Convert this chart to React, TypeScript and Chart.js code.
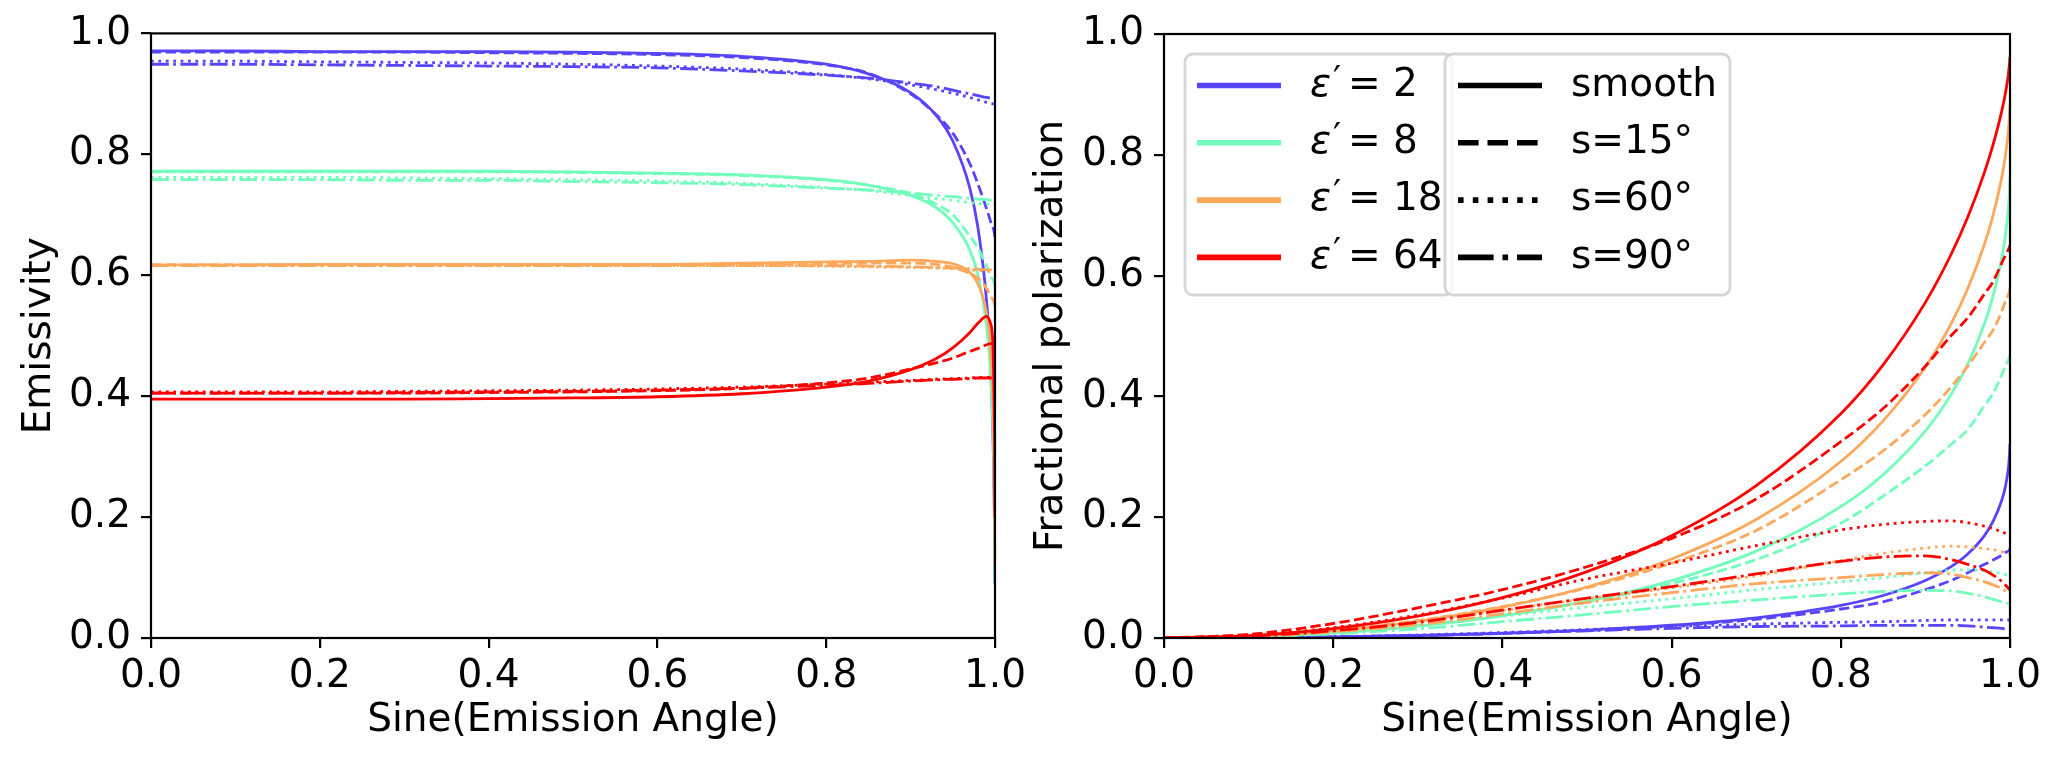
import { useEffect, useRef } from 'react'
import { Chart, registerables } from 'chart.js'
import type { Plugin, ChartConfiguration } from 'chart.js'

Chart.register(...registerables)

// sin(emission angle) sample points shared by every curve
const sinAngle = [0, 0.1, 0.2, 0.3, 0.4, 0.5, 0.6, 0.7, 0.8, 0.85, 0.9, 0.93, 0.95, 0.97, 0.98, 0.99, 0.995, 0.9995, 0.9999]

const epsLabels = ['2', '8', '18', '64']
const roughLabels = ['smooth', 's=15°', 's=60°', 's=90°']
const xTicks = [0, 0.2, 0.4, 0.6, 0.8, 1.0]
const yTicks = [0, 0.2, 0.4, 0.6, 0.8, 1.0]

// emissivity
const emis2Smooth = [0.971, 0.971, 0.970, 0.970, 0.970, 0.969, 0.967, 0.962, 0.949, 0.933, 0.902, 0.865, 0.822, 0.745, 0.677, 0.557, 0.441, 0.171, 0.09]
const emis2S15 = [0.969, 0.969, 0.969, 0.969, 0.968, 0.967, 0.965, 0.960, 0.948, 0.934, 0.900, 0.866, 0.835, 0.785, 0.750, 0.710, 0.688, 0.668, 0.663]
const emis2S60 = [0.954, 0.954, 0.953, 0.952, 0.951, 0.949, 0.946, 0.941, 0.932, 0.925, 0.915, 0.907, 0.901, 0.894, 0.890, 0.886, 0.884, 0.882, 0.881]
const emis2S90 = [0.949, 0.949, 0.948, 0.947, 0.946, 0.945, 0.943, 0.938, 0.931, 0.926, 0.918, 0.912, 0.906, 0.900, 0.897, 0.894, 0.893, 0.892, 0.892]

const emis8Smooth = [0.772, 0.772, 0.772, 0.772, 0.772, 0.771, 0.769, 0.766, 0.758, 0.749, 0.732, 0.712, 0.687, 0.642, 0.599, 0.515, 0.426, 0.183, 0.09]
const emis8S15 = [0.771, 0.771, 0.771, 0.771, 0.771, 0.770, 0.768, 0.765, 0.757, 0.749, 0.735, 0.718, 0.700, 0.665, 0.645, 0.615, 0.598, 0.585, 0.580]
const emis8S60 = [0.762, 0.762, 0.762, 0.761, 0.760, 0.758, 0.756, 0.752, 0.745, 0.740, 0.732, 0.727, 0.724, 0.720, 0.719, 0.718, 0.717, 0.717, 0.716]
const emis8S90 = [0.758, 0.758, 0.758, 0.757, 0.757, 0.755, 0.753, 0.750, 0.744, 0.741, 0.736, 0.732, 0.730, 0.727, 0.726, 0.725, 0.724, 0.724, 0.724]

const emis18Smooth = [0.617, 0.617, 0.618, 0.618, 0.618, 0.618, 0.618, 0.620, 0.622, 0.623, 0.625, 0.623, 0.619, 0.605, 0.585, 0.536, 0.469, 0.228, 0.12]
const emis18S15 = [0.617, 0.617, 0.617, 0.617, 0.617, 0.617, 0.617, 0.618, 0.619, 0.620, 0.620, 0.618, 0.613, 0.603, 0.595, 0.578, 0.565, 0.552, 0.548]
const emis18S60 = [0.616, 0.616, 0.616, 0.616, 0.616, 0.616, 0.616, 0.616, 0.615, 0.614, 0.613, 0.612, 0.611, 0.609, 0.608, 0.607, 0.607, 0.606, 0.606]
const emis18S90 = [0.616, 0.616, 0.616, 0.616, 0.616, 0.616, 0.616, 0.616, 0.616, 0.615, 0.614, 0.613, 0.612, 0.611, 0.610, 0.609, 0.609, 0.608, 0.608]

const emis64Smooth = [0.395, 0.395, 0.395, 0.395, 0.396, 0.397, 0.399, 0.404, 0.415, 0.425, 0.444, 0.462, 0.480, 0.505, 0.521, 0.532, 0.519, 0.332, 0.2]
const emis64S15 = [0.405, 0.405, 0.405, 0.405, 0.406, 0.407, 0.409, 0.413, 0.422, 0.430, 0.445, 0.455, 0.463, 0.474, 0.479, 0.485, 0.487, 0.489, 0.490]
const emis64S60 = [0.407, 0.407, 0.407, 0.408, 0.409, 0.410, 0.412, 0.415, 0.420, 0.423, 0.426, 0.428, 0.429, 0.430, 0.431, 0.431, 0.431, 0.431, 0.431]
const emis64S90 = [0.405, 0.405, 0.405, 0.406, 0.407, 0.408, 0.410, 0.413, 0.418, 0.421, 0.425, 0.427, 0.428, 0.429, 0.430, 0.430, 0.430, 0.430, 0.430]

// fractional polarization
const pol2Smooth = [0, 0.0004, 0.0018, 0.0041, 0.0078, 0.0132, 0.0212, 0.0335, 0.0541, 0.0704, 0.0951, 0.1177, 0.139, 0.170, 0.193, 0.227, 0.254, 0.306, 0.321]
const pol2S15 = [0, 0.0004, 0.0018, 0.004, 0.0075, 0.0125, 0.02, 0.031, 0.048, 0.06, 0.08, 0.095, 0.108, 0.122, 0.129, 0.137, 0.142, 0.146, 0.148]
const pol2S60 = [0, 0.0005, 0.002, 0.005, 0.009, 0.014, 0.019, 0.023, 0.026, 0.027, 0.029, 0.030, 0.030, 0.030, 0.030, 0.030, 0.030, 0.030, 0.030]
const pol2S90 = [0, 0.0004, 0.0018, 0.004, 0.008, 0.012, 0.016, 0.019, 0.020, 0.021, 0.021, 0.021, 0.020, 0.018, 0.017, 0.016, 0.015, 0.014, 0.014]

const pol8Smooth = [0, 0.0021, 0.0086, 0.0198, 0.0368, 0.061, 0.095, 0.1438, 0.2174, 0.2704, 0.3428, 0.4022, 0.4535, 0.5212, 0.5663, 0.6272, 0.6713, 0.7444, 0.763]
const pol8S15 = [0, 0.0025, 0.010, 0.021, 0.038, 0.060, 0.090, 0.130, 0.190, 0.235, 0.285, 0.320, 0.345, 0.385, 0.405, 0.435, 0.452, 0.466, 0.470]
const pol8S60 = [0, 0.002, 0.009, 0.020, 0.036, 0.051, 0.065, 0.080, 0.093, 0.100, 0.108, 0.112, 0.113, 0.111, 0.109, 0.107, 0.105, 0.104, 0.104]
const pol8S90 = [0, 0.0015, 0.007, 0.015, 0.027, 0.039, 0.052, 0.063, 0.073, 0.077, 0.079, 0.078, 0.074, 0.068, 0.064, 0.060, 0.058, 0.056, 0.055]

const pol18Smooth = [0, 0.003, 0.0119, 0.0276, 0.0511, 0.0844, 0.1307, 0.1961, 0.2922, 0.3595, 0.4487, 0.5193, 0.5781, 0.6527, 0.7001, 0.7612, 0.8031, 0.8677, 0.8828]
const pol18S15 = [0, 0.0035, 0.013, 0.029, 0.052, 0.083, 0.124, 0.178, 0.262, 0.310, 0.370, 0.415, 0.450, 0.490, 0.510, 0.540, 0.560, 0.575, 0.580]
const pol18S60 = [0, 0.003, 0.012, 0.027, 0.046, 0.065, 0.083, 0.103, 0.128, 0.140, 0.149, 0.152, 0.151, 0.148, 0.146, 0.143, 0.141, 0.140, 0.140]
const pol18S90 = [0, 0.0025, 0.010, 0.022, 0.040, 0.059, 0.075, 0.090, 0.100, 0.105, 0.108, 0.106, 0.100, 0.093, 0.088, 0.082, 0.078, 0.075, 0.074]

const pol64Smooth = [0, 0.0039, 0.0156, 0.0361, 0.0667, 0.1098, 0.1694, 0.2523, 0.3714, 0.4523, 0.5557, 0.6341, 0.6966, 0.7718, 0.8168, 0.8711, 0.9054, 0.9523, 0.962]
const pol64S15 = [0, 0.006, 0.024, 0.050, 0.080, 0.118, 0.165, 0.230, 0.325, 0.380, 0.450, 0.500, 0.530, 0.570, 0.590, 0.620, 0.635, 0.648, 0.650]
const pol64S60 = [0, 0.004, 0.017, 0.038, 0.066, 0.098, 0.124, 0.153, 0.179, 0.188, 0.193, 0.194, 0.191, 0.185, 0.181, 0.176, 0.173, 0.171, 0.171]
const pol64S90 = [0, 0.003, 0.012, 0.026, 0.046, 0.066, 0.085, 0.106, 0.127, 0.134, 0.136, 0.130, 0.122, 0.112, 0.104, 0.094, 0.087, 0.080, 0.079]

const emisSeries = [
  [emis2Smooth, emis2S15, emis2S60, emis2S90],
  [emis8Smooth, emis8S15, emis8S60, emis8S90],
  [emis18Smooth, emis18S15, emis18S60, emis18S90],
  [emis64Smooth, emis64S15, emis64S60, emis64S90],
]
const polSeries = [
  [pol2Smooth, pol2S15, pol2S60, pol2S90],
  [pol8Smooth, pol8S15, pol8S60, pol8S90],
  [pol18Smooth, pol18S15, pol18S60, pol18S90],
  [pol64Smooth, pol64S15, pol64S60, pol64S90],
]

const epsColors = ['rgb(88,68,250)', 'rgb(114,253,188)', 'rgb(255,168,92)', 'rgb(255,0,0)']
// matplotlib dash patterns at linewidth 1 (200 dpi)
const lineDashes = [[], [10.3, 4.4], [2.8, 4.6], [17.8, 4.4, 2.8, 4.4]]
const legendDashes = [[], [20.6, 8.9], [5.6, 9.2], [35.6, 8.9, 5.6, 8.9]]

const FONT = { family: "'DejaVu Sans', sans-serif", size: 39 }
const W = 2061
const H = 765

const framePlugin: Plugin<'line'> = {
  id: 'frame',
  afterDatasetsDraw(chart) {
    const { ctx, chartArea: a } = chart
    ctx.save()
    ctx.strokeStyle = '#000'
    ctx.lineWidth = 2.2
    ctx.strokeRect(a.left, a.top, a.right - a.left, a.bottom - a.top)
    ctx.restore()
  },
}

function legendBox(ctx: CanvasRenderingContext2D, x: number, y: number, w: number, h: number) {
  ctx.beginPath()
  ctx.roundRect(x, y, w, h, 8)
  ctx.fillStyle = 'rgba(255,255,255,0.8)'
  ctx.fill()
  ctx.strokeStyle = 'rgba(204,204,204,0.8)'
  ctx.lineWidth = 2.8
  ctx.stroke()
}

function handle(ctx: CanvasRenderingContext2D, x: number, y: number, color: string, dash: number[]) {
  ctx.beginPath()
  ctx.setLineDash(dash)
  ctx.strokeStyle = color
  ctx.lineWidth = 5.6
  ctx.lineCap = 'butt'
  ctx.moveTo(x, y)
  ctx.lineTo(x + 84, y)
  ctx.stroke()
  ctx.setLineDash([])
}

const legendPlugin: Plugin<'line'> = {
  id: 'twoLegends',
  afterDraw(chart) {
    const { ctx } = chart
    const rowY = (i: number) => 85.5 + i * 57.3
    ctx.save()
    ctx.textBaseline = 'middle'
    ctx.textAlign = 'left'

    legendBox(ctx, 1185, 54, 267, 241)
    epsLabels.forEach((lab, i) => {
      const y = rowY(i)
      handle(ctx, 1197, y, epsColors[i], [])
      ctx.fillStyle = '#000'
      ctx.font = `italic 39px ${FONT.family}`
      ctx.fillText('ε', 1310, y)
      ctx.font = `36px ${FONT.family}`
      ctx.fillText('′', 1333, y - 4)
      ctx.font = `39px ${FONT.family}`
      ctx.fillText('=', 1348, y)
      ctx.fillText(lab, 1393, y)
    })

    legendBox(ctx, 1445, 54, 285, 241)
    roughLabels.forEach((lab, i) => {
      const y = rowY(i)
      handle(ctx, 1458, y, '#000', legendDashes[i])
      ctx.fillStyle = '#000'
      ctx.font = `39px ${FONT.family}`
      ctx.fillText(lab, 1571, y)
    })
    ctx.restore()
  },
}

function buildDatasets(series: number[][][]) {
  const sets: any[] = []
  series.forEach((group, i) => {
    group.forEach((vals, j) => {
      sets.push({
        label: `eps ${epsLabels[i]} ${roughLabels[j]}`,
        data: sinAngle.map((x, k) => ({ x, y: vals[k] })),
        borderColor: epsColors[i],
        borderWidth: 2.8,
        borderDash: lineDashes[j],
        pointRadius: 0,
        fill: false,
        cubicInterpolationMode: 'monotone',
        order: -(i * 4 + j),
      })
    })
  })
  return sets
}

function makeConfig(
  series: number[][][],
  yTitle: string,
  pad: { left: number; right: number; top: number },
  yWidth: number,
  yTitlePad: number,
  withLegend: boolean,
): ChartConfiguration<'line'> {
  const tickColor = '#000'
  return {
    type: 'line',
    data: { datasets: buildDatasets(series) },
    options: {
      animation: false,
      responsive: false,
      devicePixelRatio: 1,
      layout: { padding: { left: pad.left, right: pad.right, top: pad.top, bottom: 0 } },
      plugins: { legend: { display: false }, tooltip: { enabled: false } },
      scales: {
        x: {
          type: 'linear',
          min: 0,
          max: 1,
          afterBuildTicks: (s: any) => {
            s.ticks = xTicks.map((value) => ({ value }))
          },
          afterFit: (s: any) => {
            s.height = 127
          },
          grid: { drawOnChartArea: false, drawTicks: true, tickLength: 10, color: tickColor, lineWidth: 2.2 },
          border: { display: false },
          ticks: {
            color: '#000',
            font: FONT,
            padding: 5,
            maxRotation: 0,
            autoSkip: false,
            callback: (v: any) => Number(v).toFixed(1),
          },
          title: { display: true, text: 'Sine(Emission Angle)', color: '#000', font: FONT, padding: { top: 0, bottom: 21 } },
        },
        y: {
          type: 'linear',
          min: 0,
          max: 1,
          afterBuildTicks: (s: any) => {
            s.ticks = yTicks.map((value) => ({ value }))
          },
          afterFit: (s: any) => {
            s.width = yWidth
          },
          grid: { drawOnChartArea: false, drawTicks: true, tickLength: 10, color: tickColor, lineWidth: 2.2 },
          border: { display: false },
          ticks: {
            color: '#000',
            font: FONT,
            padding: 10,
            autoSkip: false,
            callback: (v: any) => Number(v).toFixed(1),
          },
          title: { display: true, text: yTitle, color: '#000', font: FONT, padding: { top: yTitlePad, bottom: 0 } },
        },
      },
    },
    plugins: withLegend ? [framePlugin, legendPlugin] : [framePlugin],
  }
}

function Panel({ config }: { config: () => ChartConfiguration<'line'> }) {
  const canvasRef = useRef<HTMLCanvasElement>(null)

  useEffect(() => {
    if (!canvasRef.current) return
    const chart = new Chart(canvasRef.current, config())
    return () => {
      chart.destroy()
    }
  }, [config])

  return (
    <canvas
      ref={canvasRef}
      width={W}
      height={H}
      style={{ position: 'absolute', left: 0, top: 0, width: W, height: H }}
    />
  )
}

const leftConfig = () => makeConfig(emisSeries, 'Emissivity', { left: 0, right: W - 995, top: 33 }, 151, 16, false)
const rightConfig = () =>
  makeConfig(polSeries, 'Fractional polarization', { left: 1000, right: W - 2010, top: 34 }, 164, 28.5, true)

export default function App() {
  return (
    <div style={{ position: 'absolute', left: 0, top: 0, width: W, height: H, background: '#fff', overflow: 'hidden' }}>
      <Panel config={leftConfig} />
      <Panel config={rightConfig} />
    </div>
  )
}
